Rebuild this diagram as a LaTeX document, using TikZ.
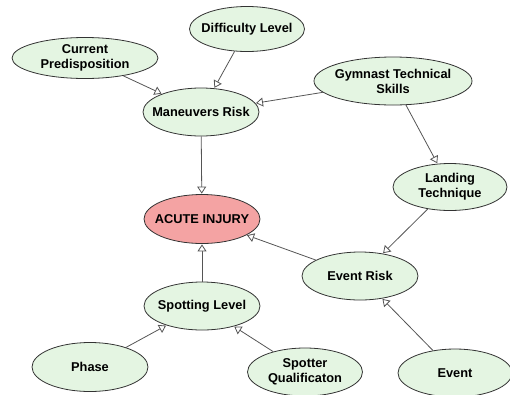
\documentclass[tikz,border=0pt]{standalone}
\usepackage{fontspec}
\setmainfont{Liberation Sans}
\usetikzlibrary{shapes.geometric,arrows.meta}
\definecolor{nodegreen}{HTML}{E4F5E2}
\definecolor{nodered}{HTML}{F4A3A3}
\definecolor{rimgray}{HTML}{333333}
\definecolor{linkgray}{HTML}{555555}
\tikzset{
  txt/.style={inner sep=0pt, align=center, font=\fontsize{12.8}{15}\selectfont\bfseries},
  var/.style={ellipse, draw=rimgray, line width=0.8pt, fill=nodegreen, inner sep=0pt,
    label={[txt]center:{#1}}},
  target/.style={var={#1}, fill=nodered},
  link/.style={draw=linkgray, line width=0.8pt,
    -{Triangle[open, length=7pt, width=9pt, fill=white]}, shorten >=0.5pt},
}
\begin{document}
\begin{tikzpicture}[x=1pt, y=-1pt]
\useasboundingbox (0,0) rectangle (510,394);
\node[var={Current\\Predisposition}, minimum width=146pt, minimum height=41pt] (pre) at (85,58) {};
\node[var={Difficulty Level}, minimum width=115pt, minimum height=45pt] (dif) at (247,29) {};
\node[var={Maneuvers Risk}, minimum width=116pt, minimum height=48pt] (man) at (201,112) {};
\node[var={Gymnast Technical\\Skills}, minimum width=158pt, minimum height=48pt] (gym) at (393,81) {};
\node[var={Landing\\Technique}, minimum width=114pt, minimum height=47pt] (lan) at (450,187) {};
\node[target={ACUTE INJURY}, minimum width=116pt, minimum height=49pt] (acu) at (202,219) {};
\node[var={Event Risk}, minimum width=116pt, minimum height=48pt] (evr) at (360,276) {};
\node[var={Spotting Level}, minimum width=116pt, minimum height=48pt] (spl) at (202,306) {};
\node[var={Phase}, minimum width=116pt, minimum height=49pt] (pha) at (90,367) {};
\node[var={Spotter\\Qualificaton}, minimum width=115pt, minimum height=48pt] (spq) at (305,372) {};
\node[var={Event}, minimum width=114pt, minimum height=48pt] (evt) at (455,373) {};

\draw[link] (pre) -- (man);
\draw[link] (dif) -- (man);
\draw[link] (gym) -- (man);
\draw[link] (gym) -- (lan);
\draw[link] (man) -- (acu);
\draw[link] (lan) -- (evr);
\draw[link] (evr) -- (acu);
\draw[link] (spl) -- (acu);
\draw[link] (pha) -- (spl);
\draw[link] (spq) -- (spl);
\draw[link] (evt) -- (evr);
\end{tikzpicture}
\end{document}
